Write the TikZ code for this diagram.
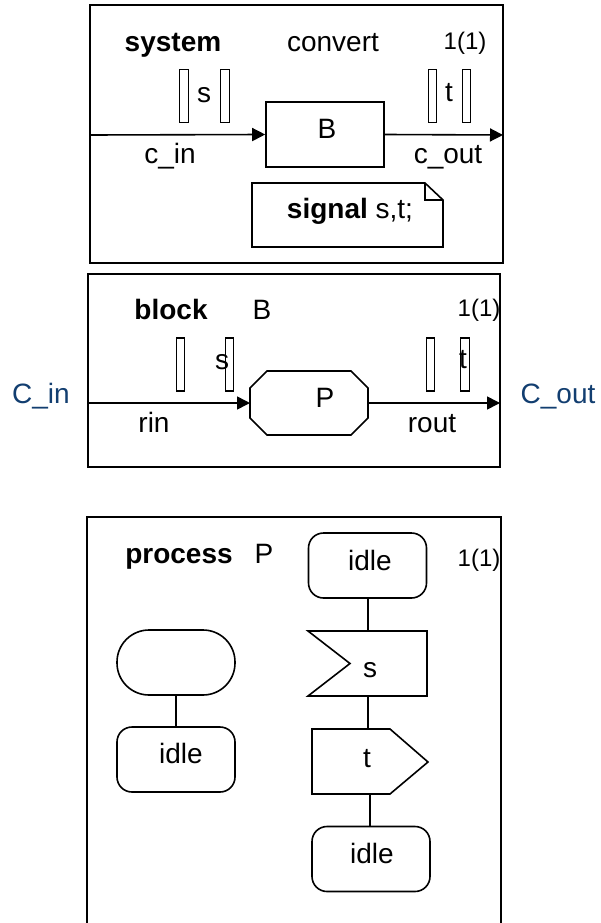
\documentclass[tikz,border=0pt]{standalone}
\usepackage{fontspec}
\setmainfont{Liberation Sans}
\usetikzlibrary{arrows.meta}
\definecolor{sdlblue}{RGB}{18,62,112}
\begin{document}
\begin{tikzpicture}[x=1pt,y=-1pt,
  frame/.style={draw, line width=1.6pt},
  lbl/.style={anchor=base, inner sep=0pt, font=\fontsize{28}{33}\selectfont},
  small/.style={anchor=base, inner sep=0pt, font=\fontsize{24}{28}\selectfont},
  sbox/.style={draw, line width=1.2pt, minimum width=8.5pt, minimum height=53pt, inner sep=0pt},
  chan/.style={line width=1.6pt, -{Triangle[length=13pt,width=13pt]}},
  box/.style={draw, line width=1.6pt, inner sep=0pt, minimum width=118pt, minimum height=65pt},
  rbox/.style={box, rounded corners=15pt},
  stad/.style={box, rounded corners=32pt},
  conn/.style={line width=1.6pt}]
\useasboundingbox (0,0) rectangle (601,923);
\fill[white] (0,0) rectangle (601,923);

% ---------------- system ----------------
\draw[frame] (90,5) rectangle (503,263);
\node[lbl, font=\fontsize{28}{33}\selectfont\bfseries] (systxt) at (173,52) {system};
\node[lbl] (convtxt) at (333,52) {convert};
\node[small] (pg1) at (465,50) {1(1)};
\node[sbox] (s1a) at (184,96) {};
\node[sbox] (s1b) at (225,96) {};
\node[lbl] (s1txt) at (204,103) {s};
\node[sbox] (t1a) at (432.5,96) {};
\node[sbox] (t1b) at (466.5,96) {};
\node[lbl] (t1txt) at (449,102) {t};
\node[box] (B) at (325,134.5) {};
\node[lbl] (Btxt) at (327,139) {B};
\coordinate (sysL) at (90,135);
\coordinate (sysR) at (503,135);
\draw[chan] (sysL) -- (B.west);
\draw[chan] (B.east) -- (sysR);
\node[lbl] (cin) at (170,163) {c\_in};
\node[lbl] (cout) at (448,163) {c\_out};
\draw[line width=1.6pt] (252,183) coordinate (n1) -- (425,183) coordinate (n2) -- (443,200) coordinate (n3) -- (443,247) -- (252,247) -- cycle;
\draw[line width=1.1pt] (n2) -- (425,200) -- (n3);
\node[lbl] (sigtxt) at (350,218) {\textbf{signal} s,t;};

% ---------------- block ----------------
\draw[frame] (88,274) rectangle (500,467);
\node[lbl, font=\fontsize{28}{33}\selectfont\bfseries] (blktxt) at (171,319) {block};
\node[lbl] (blkB) at (262,319) {B};
\node[small] (pg2) at (479,316) {1(1)};
\node[sbox] (s2a) at (180.5,364.5) {};
\node[sbox] (s2b) at (229.5,364.5) {};
\node[lbl] (s2txt) at (222,369) {s};
\node[sbox] (t2a) at (430.5,364.5) {};
\node[sbox] (t2b) at (465,364.5) {};
\node[lbl] (t2txt) at (463,368) {t};
\draw[line width=1.6pt] (267,371) coordinate (oA) -- (351,371) -- (368,388) -- (368,418) -- (351,435) -- (267,435) -- (250,418) -- (250,388) -- cycle;
\coordinate (Pw) at (250,403);
\coordinate (Pe) at (368,403);
\node[lbl] (Ptxt) at (325,407) {P};
\coordinate (blkL) at (88,403);
\coordinate (blkR) at (500,403);
\draw[chan] (blkL) -- (Pw);
\draw[chan] (Pe) -- (blkR);
\node[lbl] (rin) at (154,432) {rin};
\node[lbl] (rout) at (432,432) {rout};
\node[lbl, text=sdlblue] (Cin) at (41,403) {C\_in};
\node[lbl, text=sdlblue] (Cout) at (558,403) {C\_out};

% ---------------- process ----------------
\draw[frame] (87,940) -- (87,517) -- (501,517) -- (501,940);
\node[lbl, font=\fontsize{28}{33}\selectfont\bfseries] (proctxt) at (179,563) {process};
\node[lbl] (procP) at (264,563) {P};
\node[small] (pg3) at (479,566) {1(1)};

\node[stad] (start) at (176,662.5) {};
\node[rbox] (idleL) at (176,759.5) {};
\node[lbl] (idleLt) at (181,763) {idle};
\draw[conn] (start.south) -- (idleL.north);

\node[rbox] (idle1) at (367.5,565.5) {};
\node[lbl] (idle1t) at (370,570) {idle};
\draw[line width=1.6pt] (308,631) coordinate (inA) -- (427,631) -- (427,696) -- (308,696) -- (350,663.5) -- cycle;
\coordinate (inN) at (368,631);
\coordinate (inS) at (368,696);
\node[lbl] (instxt) at (370,677) {s};
\draw[line width=1.6pt] (312,729) -- (390,729) -- (428,762) -- (390,794) -- (312,794) -- cycle;
\coordinate (outN) at (368,729);
\coordinate (outS) at (370,794);
\node[lbl] (outtxt) at (367,767) {t};
\node[rbox] (idle2) at (371,859) {};
\node[lbl] (idle2t) at (372,863) {idle};
\draw[conn] (idle1.south -| inN) -- (inN);
\draw[conn] (inS) -- (outN);
\draw[conn] (outS) -- (outS |- idle2.north);
\end{tikzpicture}
\end{document}
